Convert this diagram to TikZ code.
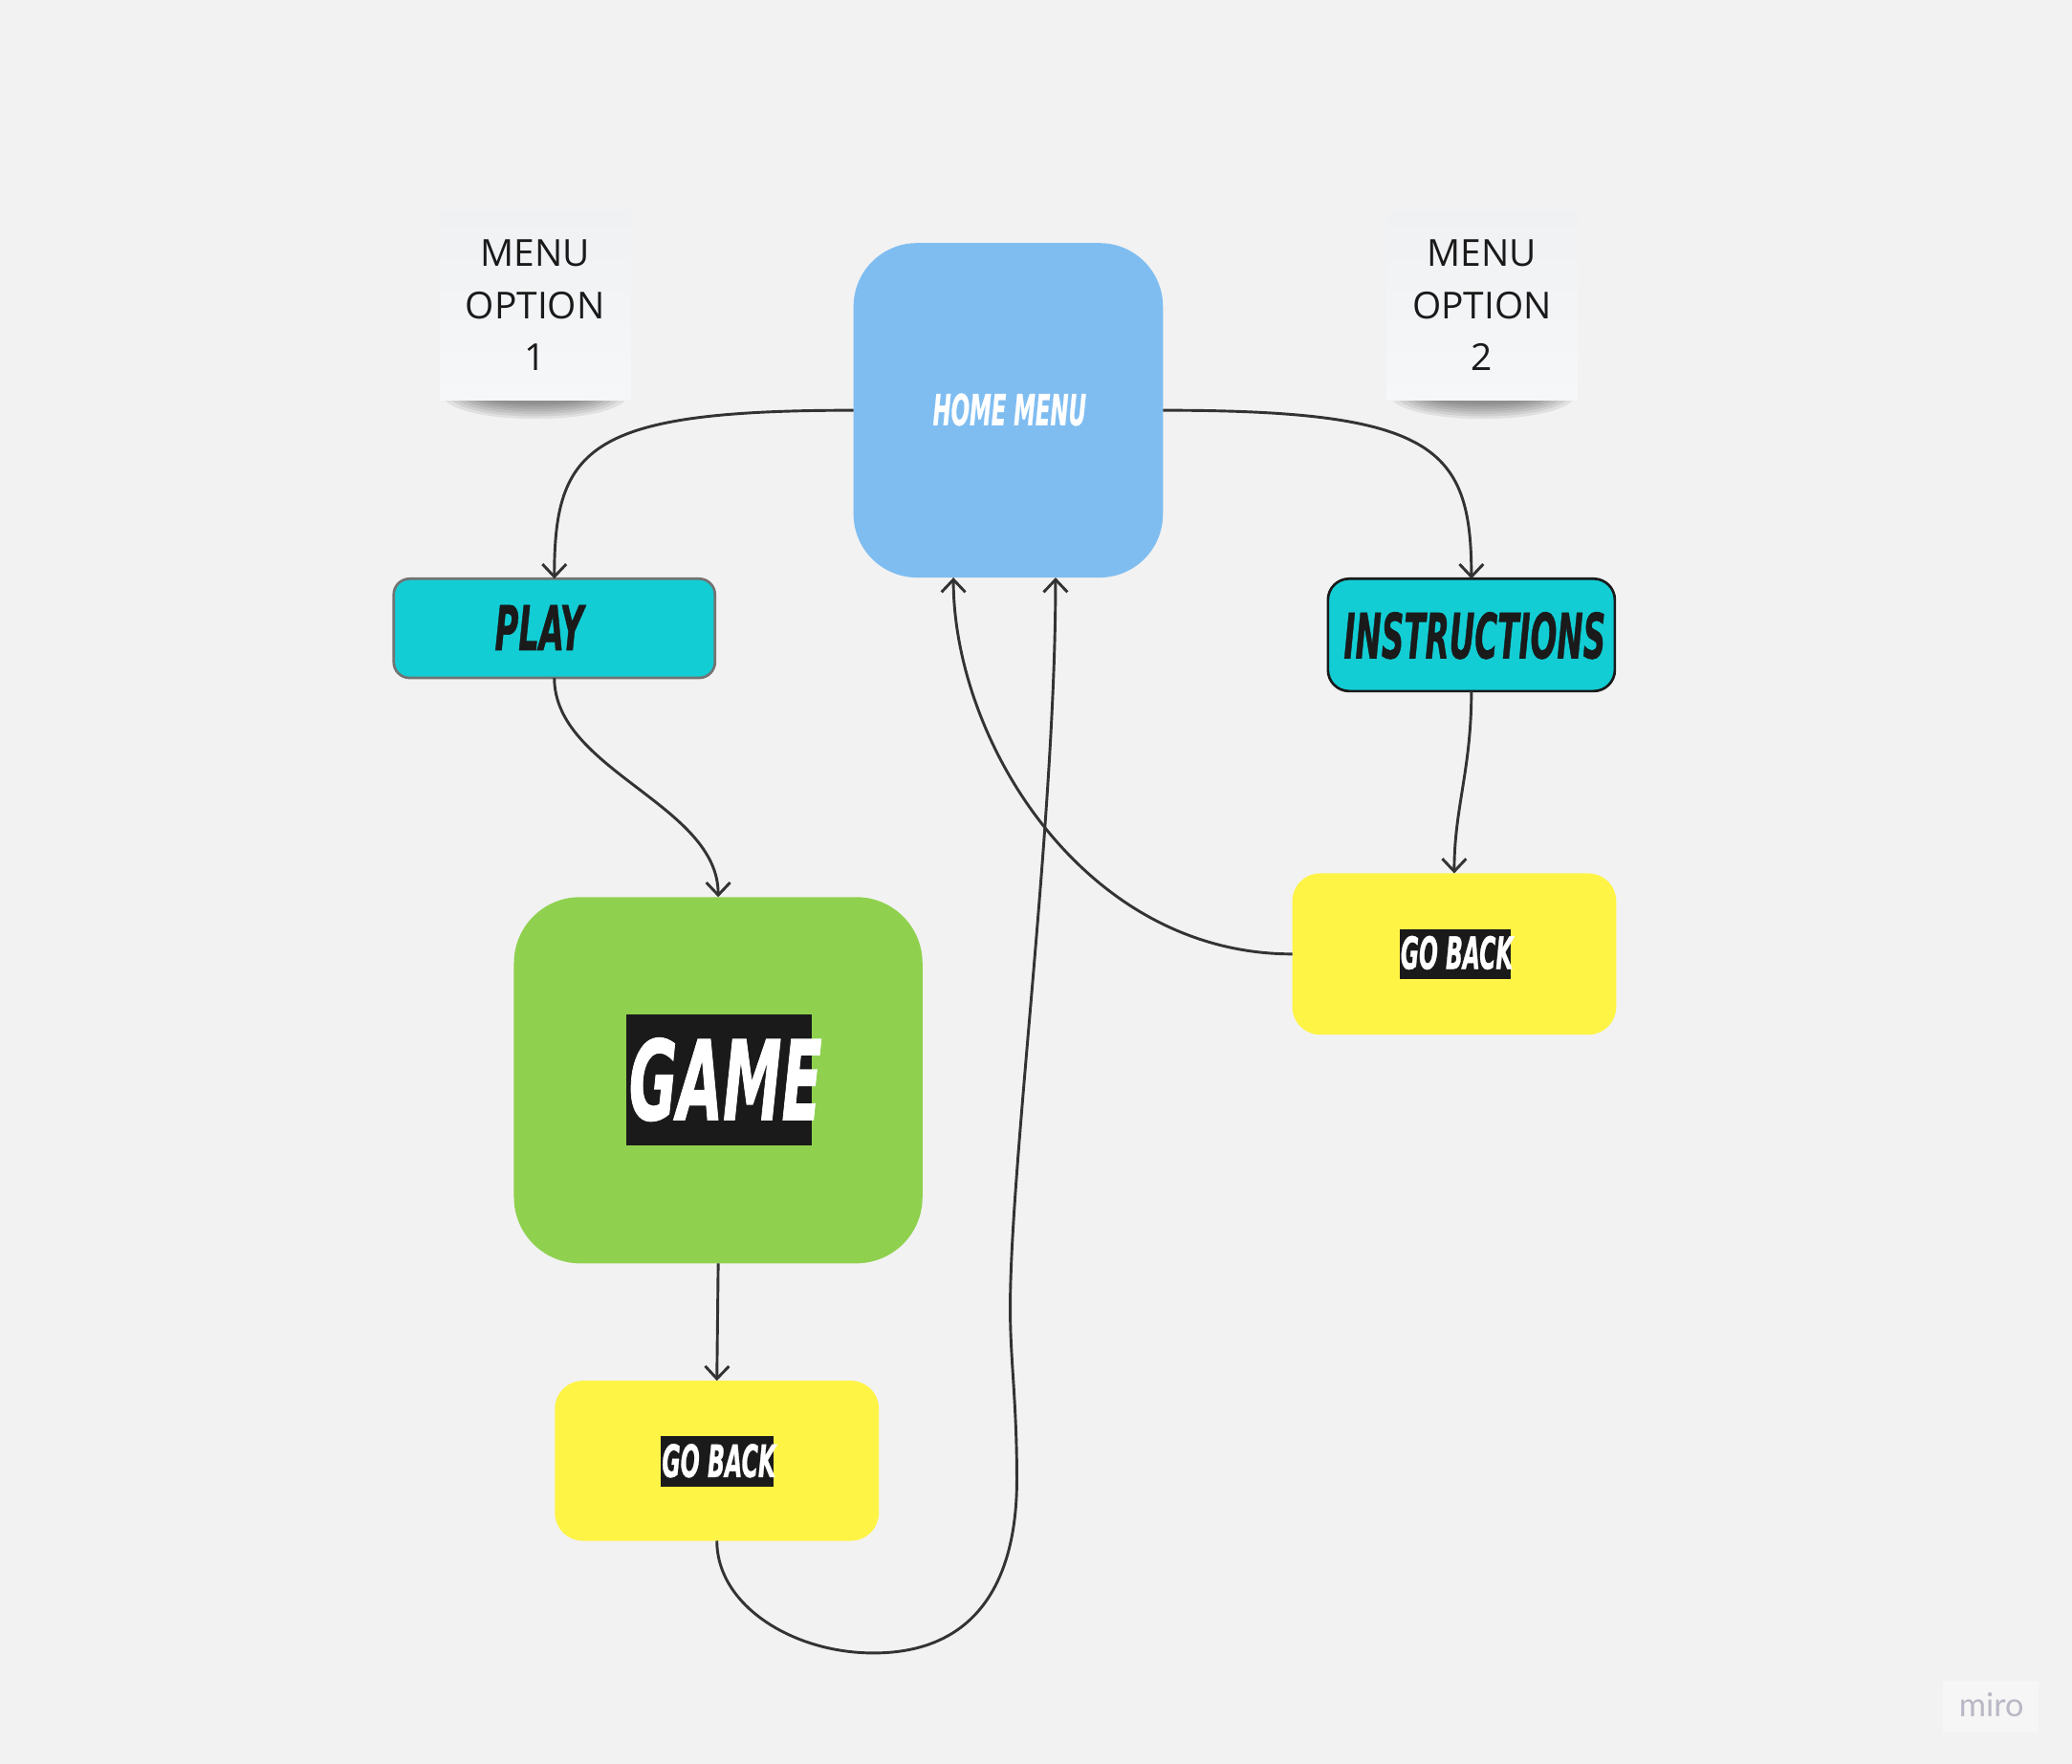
\documentclass[tikz,border=0pt]{standalone}
\usepackage{fontspec}
\usepackage{graphicx}
\setmainfont{Open Sans}
\newfontfamily\comicfont{DejaVu Sans Condensed Bold Oblique}[FakeBold=1]
\newfontfamily\mirofont{Lato}
\usetikzlibrary{arrows.meta,calc}
\definecolor{bgcol}{HTML}{F2F2F2}
\definecolor{stickytop}{HTML}{F0F1F3}
\definecolor{stickybot}{HTML}{F6F7F9}
\definecolor{txtdark}{HTML}{1A1A1A}
\definecolor{homeblue}{HTML}{7FBDF1}
\definecolor{cyanbox}{HTML}{12CDD4}
\definecolor{playgray}{HTML}{737373}
\definecolor{gamegreen}{HTML}{8FD14F}
\definecolor{goyellow}{HTML}{FEF445}
\definecolor{labelblack}{HTML}{1A1A1A}
\definecolor{linecol}{HTML}{333333}
\definecolor{mirobox}{HTML}{F6F6F6}
\definecolor{mirotext}{HTML}{B8B8C6}
\tikzset{
  conn/.style={draw=linecol, line width=0.6pt, -{Straight Barb[length=0.095cm,width=0.18cm]}},
  shape box/.style={rectangle, inner sep=0pt, outer sep=0pt},
  sticky/.style={shape box, minimum width=1.44cm, minimum height=1.43cm, top color=stickytop, bottom color=stickybot},
  stickytext/.style={align=center, font=\fontsize{8}{11.24}\selectfont, text=txtdark, inner sep=0pt},
  labelbg/.style={shape box, fill=labelblack},
  comic/.style={inner sep=0pt, outer sep=0pt, font=\comicfont},
  shadowlayer/.style={fill=black, opacity=0.07},
}
\newcommand{\stickyshadow}[2]{%
  \foreach \i in {0,...,6}{
    \fill[shadowlayer] ({#1+3+5*\i},#2) .. controls ({#1+18+5*\i},{#2+20-2.5*\i}) and ({#1+126-5*\i},{#2+20-2.5*\i}) .. ({#1+141-5*\i},#2) -- cycle;
  }}
\begin{document}
\begin{tikzpicture}[x=0.01cm, y=-0.01cm]
  \useasboundingbox (0,0) rectangle (1568,1335);
  \fill[bgcol] (0,0) rectangle (1568,1335);

  % sticky notes
  \stickyshadow{333}{302}
  \stickyshadow{1050}{302}
  \node[sticky] (s1) at (405,231.5) {};
  \node[stickytext] (s1text) at (405,231) {MENU\\OPTION\\1};
  \node[sticky] (s2) at (1121.5,231.5) {};
  \node[stickytext] (s2text) at (1121.5,231) {MENU\\OPTION\\2};

  % main boxes
  \node[shape box, fill=homeblue, minimum width=2.34cm, minimum height=2.53cm, rounded corners=0.48cm] (home) at (763,310.5) {};
  \node[comic, text=white] (homelabel) at (764,310) {\resizebox{1.16cm}{0.24cm}{HOME MENU}};

  \node[shape box, fill=cyanbox, draw=playgray, line width=0.55pt, minimum width=2.43cm, minimum height=0.75cm, rounded corners=0.12cm] (play) at (419.5,475.5) {};
  \node[comic, text=txtdark] (playlabel) at (408,475) {\resizebox{0.67cm}{0.34cm}{PLAY}};

  \node[shape box, fill=cyanbox, draw=txtdark, line width=0.55pt, minimum width=2.17cm, minimum height=0.85cm, rounded corners=0.16cm] (instr) at (1113.5,480.5) {};
  \node[comic, text=txtdark] (instrlabel) at (1116,481) {\resizebox{1.98cm}{0.35cm}{INSTRUCTIONS}};

  \node[shape box, fill=gamegreen, minimum width=3.09cm, minimum height=2.77cm, rounded corners=0.5cm] (game) at (543.5,817.5) {};
  \node[labelbg, minimum width=1.40cm, minimum height=0.99cm] (gamebg) at (544,817.5) {};
  \node[comic, text=white] (gamelabel) at (549,817) {\resizebox{1.46cm}{0.62cm}{GAME}};

  \node[shape box, fill=goyellow, minimum width=2.45cm, minimum height=1.22cm, rounded corners=0.21cm] (gb1) at (1100.5,722) {};
  \node[labelbg, minimum width=0.84cm, minimum height=0.38cm] (gb1bg) at (1101,722) {};
  \node[comic, text=white] (gb1label) at (1102.5,721) {\resizebox{0.85cm}{0.25cm}{GO BACK}};

  \node[shape box, fill=goyellow, minimum width=2.45cm, minimum height=1.21cm, rounded corners=0.21cm] (gb2) at (542.5,1105.5) {};
  \node[labelbg, minimum width=0.85cm, minimum height=0.38cm] (gb2bg) at (542.5,1106) {};
  \node[comic, text=white] (gb2label) at (544,1105.5) {\resizebox{0.86cm}{0.25cm}{GO BACK}};

  % entry points on the home menu
  \coordinate (homein1) at ($(home.south)+(-41.5,0)$);
  \coordinate (homein2) at ($(home.south)+(35.8,0)$);
  \coordinate (loopbottom) at (661,1251);
  \coordinate (loopright) at (769.5,1120);
  \coordinate (loopbend) at (764.5,990);

  % connectors
  \draw[conn] (home.west) .. controls +(-200,0) and +(0,-100) .. (play.north);
  \draw[conn] (home.east) .. controls +(205,0) and +(0,-100) .. (instr.north);
  \draw[conn] (play.south) .. controls +(0,70) and +(0,-70) .. (game.north);
  \draw[conn] (instr.south) .. controls +(0,60) and +(0,-50) .. (gb1.north);
  \draw[conn] (game.south) -- (gb2.north);
  \draw[conn] (gb1.west) .. controls +(-158,0) and +(0,123) .. (homein1);
  \draw[conn] (gb2.south) .. controls +(0,49) and +(-61,0) .. (loopbottom)
     .. controls +(79,0) and +(0,75) .. (loopright)
     .. controls +(0,-60) and +(0,40) .. (loopbend)
     .. controls +(0,-110) and +(0,182) .. (homein2);

  % watermark
  \node[shape box, fill=mirobox, minimum width=0.73cm, minimum height=0.39cm] (mirologo) at (1506.5,1291.5) {};
  \node[inner sep=0pt, text=mirotext, font=\mirofont] (mirolabel) at (1507,1290) {\resizebox{0.49cm}{!}{miro}};
\end{tikzpicture}
\end{document}
